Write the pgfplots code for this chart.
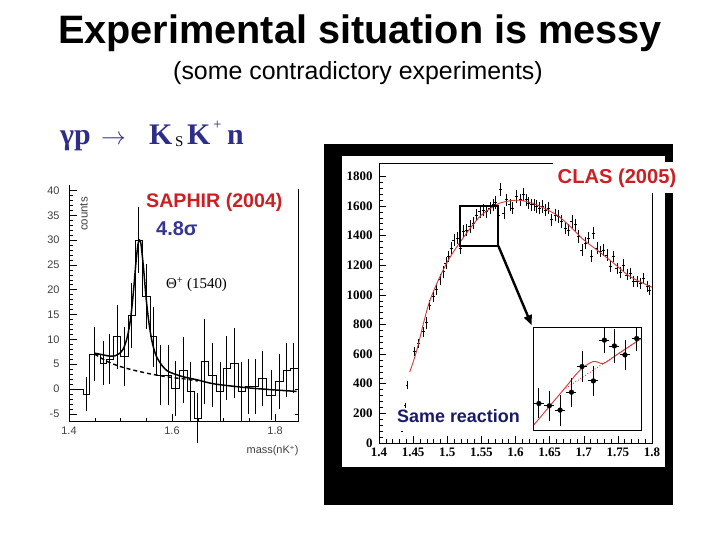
\documentclass[border=0pt]{standalone}
\usepackage{pgfplots}
\pgfplotsset{compat=1.18}
\usetikzlibrary{arrows.meta}
\usepackage{fontspec}
\setmainfont{Liberation Sans}
\newfontfamily\tnr{Liberation Serif}
\definecolor{navy}{HTML}{2E2E8A}
\definecolor{sigblue}{HTML}{353595}
\definecolor{samenavy}{HTML}{1A1A66}
\definecolor{labred}{HTML}{CC1F24}
\definecolor{fitred}{HTML}{D03A3A}
\definecolor{tickgray}{HTML}{404040}
\begin{document}
\begin{tikzpicture}[x=1bp,y=1bp]
\path[use as bounding box, fill=white] (0,0) rectangle (720,540);
% titles
\node[anchor=base, font=\fontsize{39.8}{44}\selectfont\bfseries] at (360,496) {Experimental situation is messy};
\node[anchor=base, font=\fontsize{25}{28}\selectfont] at (358,460) {(some contradictory experiments)};
% reaction
\node[anchor=base west, inner sep=0, text=navy, font=\tnr\bfseries\fontsize{30}{30}\selectfont] at (60,395) {γp};
\node[anchor=base west, inner sep=0, text=navy, font=\fontsize{30}{30}\selectfont] at (101,395) {$\rightarrow$};
\node[anchor=base west, inner sep=0, text=navy, font=\tnr\bfseries\fontsize{30}{30}\selectfont] at (149,395) {K};
\node[anchor=base west, inner sep=0, text=black, font=\tnr\fontsize{15}{15}\selectfont] at (175,393) {S};
\node[anchor=base west, inner sep=0, text=navy, font=\tnr\bfseries\fontsize{30}{30}\selectfont] at (187,395) {K};
\node[anchor=base west, inner sep=0, text=navy, font=\tnr\fontsize{15}{15}\selectfont] at (213,410) {+};
\node[anchor=base west, inner sep=0, text=navy, font=\tnr\bfseries\fontsize{30}{30}\selectfont] at (227,395) {n};

% ---------------- SAPHIR -----------------
\begin{axis}[at={(69bp,118.3bp)}, anchor=south west, scale only axis,
  width=229.2bp, height=236.7bp,
  xmin=1.4, xmax=1.845, ymin=-6.6, ymax=41.1,
  axis x line*=bottom, axis y line*=left,
  axis line style={line width=0.6bp},
  xtick={1.4,1.6,1.8}, minor xtick={1.45,1.5,1.55,1.65,1.7,1.75},
  ytick={-5,0,5,10,15,20,25,30,35,40}, minor y tick num=4,
  tick align=inside, major tick length=8bp, minor tick length=4bp,
  tick style={black, line width=0.5bp},
  ticklabel style={font=\fontsize{11}{11}\selectfont, text=tickgray},
  xticklabel style={yshift=-2bp},
  yticklabel style={xshift=-6bp},
  /pgf/number format/assume math mode=true,
  clip=false]
\addplot[const plot, black, line width=0.7bp] coordinates {
(1.400,0) (1.428,-1) (1.440,7) (1.460,5.2) (1.473,6.0) (1.486,10.5) (1.499,6.5)
(1.515,14.8) (1.528,30) (1.543,18.6) (1.557,10.5) (1.570,2.8) (1.599,0.1)
(1.614,3.8) (1.629,-0.5) (1.643,-5.9) (1.657,5.5) (1.670,2.8) (1.686,-0.5)
(1.700,4.2) (1.713,5.2) (1.729,-0.5) (1.742,0.5) (1.768,2.1) (1.784,-1.2)
(1.800,1.5) (1.816,3.8) (1.829,4.2) (1.845,4.2)};
\addplot[only marks, mark=*, mark size=0pt, black,
  error bars/.cd, y dir=both, y explicit, error mark=none,
  error bar style={line width=0.6bp, black}] coordinates {
(1.434,-1) +- (0,3.5)
(1.449,7) +- (0,5.5)
(1.466,5.2) +- (0,4.5)
(1.479,6.0) +- (0,5)
(1.493,10.5) +- (0,6.5)
(1.507,6.5) +- (0,6)
(1.521,14.8) +- (0,6.5)
(1.535,30) +- (0,6.7)
(1.550,18.6) +- (0,6.5)
(1.563,10.5) +- (0,6)
(1.578,2.8) +- (0,6)
(1.592,2.8) +- (0,6)
(1.606,0.1) +- (0,5.5)
(1.621,3.8) +- (0,6.7)
(1.636,-0.5) +- (0,6)
(1.650,-5.9) +- (0,5)
(1.663,5.5) +- (0,8.5)
(1.678,2.8) +- (0,6.5)
(1.693,-0.5) +- (0,6)
(1.706,4.2) +- (0,6.5)
(1.721,5.2) +- (0,7)
(1.735,-0.5) +- (0,6)
(1.748,0.5) +- (0,5.5)
(1.761,0.5) +- (0,5.5)
(1.776,2.1) +- (0,5.5)
(1.792,-1.2) +- (0,5)
(1.808,1.5) +- (0,5.5)
(1.822,3.8) +- (0,5.5)
(1.835,4.2) +- (0,5)};
\addplot[black, line width=1.4bp, dashed, dash pattern=on 4bp off 3bp, smooth] coordinates {
(1.450,7.0) (1.475,5.5) (1.500,4.5) (1.525,3.8) (1.550,3.2) (1.575,2.7) (1.600,2.3) (1.625,2.0) (1.650,1.6)};
\addplot[black, line width=1.5bp, smooth, tension=0.5] coordinates {
(1.450,7.2) (1.465,6.9) (1.480,6.6) (1.490,6.7) (1.500,7.3) (1.505,8.0) (1.510,9.3)
(1.515,11.3) (1.520,14.5) (1.525,19.5) (1.530,25.5) (1.534,29.2) (1.537,30.0)
(1.540,29.0) (1.545,24.0) (1.550,18.0) (1.555,13.5) (1.560,10.2) (1.565,8.0)
(1.570,6.5) (1.580,4.8) (1.590,3.7) (1.600,3.2) (1.620,2.5) (1.650,1.8)
(1.683,1.0) (1.750,0.2) (1.800,-0.2) (1.842,-0.5)};
\draw[line width=0.6bp] (axis cs:1.845,-6.6) -- (axis cs:1.845,40.2);
\draw[line width=0.5bp] (axis cs:1.845,0) -- (axis cs:1.839,0);
\draw[line width=0.5bp] (axis cs:1.845,-5) -- (axis cs:1.839,-5);
\end{axis}
\node[rotate=90, font=\fontsize{11.5}{12}\selectfont, text=tickgray] at (84bp,326bp) {counts};
\node[anchor=base east, font=\fontsize{11}{12}\selectfont, text=tickgray] at (302bp,86bp) {mass(nK\textsuperscript{+})};
\node[anchor=west, inner sep=0, text=labred, font=\fontsize{19.7}{20}\selectfont\bfseries] at (146bp,338bp) {SAPHIR (2004)};
\node[anchor=west, inner sep=0, text=sigblue, font=\fontsize{20}{20}\selectfont\bfseries] at (156bp,311bp) {4.8σ};
\node[anchor=base west, inner sep=0, font=\tnr\fontsize{15}{15}\selectfont] at (166bp,251bp) {Θ\textsuperscript{+} (1540)};

% ---------------- CLAS -----------------
\fill[black] (324bp,35bp) rectangle (673bp,396bp);
\fill[white] (342bp,73bp) rectangle (665bp,384bp);
\begin{axis}[at={(379bp,97bp)}, anchor=south west, scale only axis,
  width=273bp, height=280bp,
  xmin=1.4, xmax=1.8, ymin=0, ymax=1890,
  xtick={1.4,1.45,1.5,1.55,1.6,1.65,1.7,1.75,1.8},
  ytick={0,200,400,600,800,1000,1200,1400,1600,1800},
  minor x tick num=4, minor y tick num=4,
  xtick pos=bottom, ytick pos=left,
  tick align=inside, major tick length=7bp, minor tick length=3.5bp,
  tick style={black, line width=0.5bp},
  axis line style={line width=0.6bp},
  scaled ticks=false,
  /pgf/number format/1000 sep={},
  /pgf/number format/assume math mode=true,
  ticklabel style={font=\tnr\bfseries\fontsize{13}{13}\selectfont},
  xticklabel style={yshift=-1.5bp},
  yticklabel style={xshift=-3bp},
  ]
\addplot[only marks, mark=*, mark size=0pt, black,
  error bars/.cd, x dir=both, x explicit, y dir=both, y explicit, error mark=none,
  error bar style={line width=0.6bp, black}] coordinates {
(1.4343,81) +- (0.0015,0)
(1.4387,255) +- (0.0015,18)
(1.4416,390) +- (0.0015,28)
(1.4524,616) +- (0.0022,30)
(1.4573,672) +- (0.0022,32)
(1.4646,751) +- (0.0022,35)
(1.4695,812) +- (0.0022,40)
(1.4744,932) +- (0.0022,35)
(1.4793,988) +- (0.0022,35)
(1.4842,1038) +- (0.0022,38)
(1.4891,1105) +- (0.0022,38)
(1.4940,1157) +- (0.0022,40)
(1.4979,1213) +- (0.0022,40)
(1.5018,1259) +- (0.0022,40)
(1.5062,1315) +- (0.0022,40)
(1.5097,1371) +- (0.0022,40)
(1.5146,1383) +- (0.0022,42)
(1.5195,1315) +- (0.0022,42)
(1.5234,1428) +- (0.0022,42)
(1.5283,1439) +- (0.0022,42)
(1.5332,1462) +- (0.0022,42)
(1.5381,1484) +- (0.0022,42)
(1.5430,1540) +- (0.0022,42)
(1.5479,1563) +- (0.0022,42)
(1.5528,1574) +- (0.0022,42)
(1.5577,1563) +- (0.0022,42)
(1.5625,1586) +- (0.0022,42)
(1.5674,1608) +- (0.0022,42)
(1.5709,1624) +- (0.0022,42)
(1.5748,1540) +- (0.0022,42)
(1.5782,1710) +- (0.0022,45)
(1.5831,1552) +- (0.0022,42)
(1.5870,1642) +- (0.0022,42)
(1.5919,1608) +- (0.0022,42)
(1.5958,1586) +- (0.0022,42)
(1.6017,1665) +- (0.0022,42)
(1.6066,1642) +- (0.0022,42)
(1.6115,1676) +- (0.0022,42)
(1.6154,1642) +- (0.0022,42)
(1.6188,1620) +- (0.0022,42)
(1.6228,1608) +- (0.0022,42)
(1.6272,1608) +- (0.0022,42)
(1.6311,1597) +- (0.0022,42)
(1.6350,1586) +- (0.0022,42)
(1.6389,1597) +- (0.0022,42)
(1.6433,1574) +- (0.0022,42)
(1.6482,1586) +- (0.0022,42)
(1.6531,1507) +- (0.0022,42)
(1.6580,1540) +- (0.0022,42)
(1.6629,1529) +- (0.0022,42)
(1.6678,1495) +- (0.0022,42)
(1.6727,1450) +- (0.0022,42)
(1.6776,1439) +- (0.0022,42)
(1.6825,1495) +- (0.0022,42)
(1.6874,1473) +- (0.0022,42)
(1.6923,1394) +- (0.0022,42)
(1.6972,1304) +- (0.0022,40)
(1.7021,1349) +- (0.0022,40)
(1.7070,1383) +- (0.0022,40)
(1.7109,1263) +- (0.0022,40)
(1.7143,1417) +- (0.0022,40)
(1.7192,1315) +- (0.0022,40)
(1.7241,1293) +- (0.0022,40)
(1.7290,1304) +- (0.0022,40)
(1.7339,1270) +- (0.0022,40)
(1.7388,1191) +- (0.0022,38)
(1.7437,1259) +- (0.0022,38)
(1.7486,1180) +- (0.0022,38)
(1.7535,1150) +- (0.0022,38)
(1.7584,1202) +- (0.0022,38)
(1.7633,1135) +- (0.0022,38)
(1.7682,1146) +- (0.0022,38)
(1.7731,1089) +- (0.0022,36)
(1.7780,1089) +- (0.0022,36)
(1.7829,1078) +- (0.0022,36)
(1.7878,1112) +- (0.0022,36)
(1.7927,1056) +- (0.0022,36)
(1.7966,1033) +- (0.0022,36)};
\addplot[fitred, line width=0.9bp, smooth] coordinates {
(1.445,480) (1.455,620) (1.474,954) (1.499,1213) (1.523,1383) (1.548,1529)
(1.572,1608) (1.587,1631) (1.607,1638) (1.631,1608) (1.660,1540) (1.680,1462)
(1.700,1371) (1.719,1304) (1.744,1213) (1.768,1123) (1.800,1051)};
\addplot[fitred, line width=0.9bp] coordinates {(1.4,0) (1.8,0)};
\draw[line width=1.8bp] (axis cs:1.5185,1331) rectangle (axis cs:1.5748,1597);
\draw[line width=2.4bp, -{Triangle[length=10bp,width=8bp]}] (axis cs:1.5748,1331) -- (axis cs:1.6237,795);
\end{axis}
\fill[white] (553bp,347bp) rectangle (680bp,378bp);
\node[text=labred, font=\fontsize{20.2}{21}\selectfont\bfseries] at (617bp,362bp) {CLAS (2005)};

% inset
\begin{axis}[at={(533.3bp,109.3bp)}, anchor=south west, scale only axis,
  width=108.4bp, height=103.4bp,
  xmin=1.5185, xmax=1.5748, ymin=1331, ymax=1597,
  xtick=\empty, ytick=\empty,
  axis background/.style={fill=white},
  axis line style={line width=0.6bp}]
\addplot[fitred, line width=0.9bp, dotted] coordinates {(1.5341,1436) (1.5748,1569)};
\addplot[fitred, line width=0.9bp, smooth] coordinates {
(1.5188,1346) (1.5341,1436) (1.5428,1487) (1.5497,1509) (1.5549,1504) (1.5618,1526) (1.5748,1569)};
\addplot[only marks, mark=*, mark size=2.4bp, black,
  error bars/.cd, x dir=both, x explicit, y dir=both, y explicit, error mark=none,
  error bar style={line width=0.9bp, black}] coordinates {
(1.5214,1401) +- (0.0026,38.6)
(1.5268,1395) +- (0.0026,38.6)
(1.5324,1384) +- (0.0026,40)
(1.5383,1430) +- (0.0026,37.8)
(1.5438,1496) +- (0.0026,41)
(1.5497,1459) +- (0.0026,39.5)
(1.5554,1564) +- (0.0026,33)
(1.5606,1549) +- (0.0026,43)
(1.5661,1526) +- (0.0026,38.6)
(1.5722,1568) +- (0.0026,33)};
\end{axis}
\node[anchor=west, inner sep=0, text=samenavy, font=\fontsize{18}{18}\selectfont\bfseries] at (397bp,124bp) {Same reaction};
\end{tikzpicture}
\end{document}
